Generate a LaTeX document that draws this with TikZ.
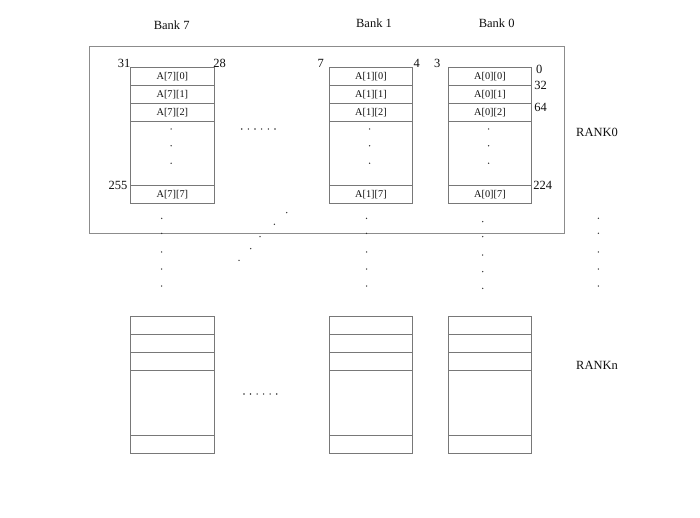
\documentclass[tikz,border=0pt]{standalone}
\usepackage{fontspec}
\setmainfont{Liberation Serif}
\usetikzlibrary{calc}
\definecolor{linegray}{RGB}{120,120,120}
\definecolor{textgray}{RGB}{15,15,15}
\definecolor{dotgray}{RGB}{50,50,50}
\tikzset{
  cell/.style={draw=linegray, line width=0.75pt, minimum width=83.3pt, minimum height=#1,
    inner sep=0pt, outer sep=0pt, anchor=north west, text=textgray,
    font=\fontsize{10.3}{11}\selectfont},
  lbl/.style={inner sep=0pt, outer sep=0pt, text=textgray, font=\fontsize{12.5}{13}\selectfont},
  frame/.style={draw=linegray!85, line width=0.9pt, inner sep=0pt, outer sep=0pt, anchor=north west},
}
\begin{document}
\begin{tikzpicture}[x=1pt,y=-1pt]
\useasboundingbox (0,0) rectangle (700,518);

% RANK0 frame
\node[frame, minimum width=475pt, minimum height=186.8pt] (rankzero) at (89.3,46.7) {};

% top banks
\foreach \nm/\xx/\k in {b7/130.7/7,b1/329.3/1,b0/448.3/0}{
  \node[cell=17.8pt] (\nm-r0) at (\xx,67.7) {A[\k][0]};
  \node[cell=17.8pt] (\nm-r1) at (\nm-r0.south west) {A[\k][1]};
  \node[cell=17.8pt] (\nm-r2) at (\nm-r1.south west) {A[\k][2]};
  \node[cell=64.6pt] (\nm-mid) at (\nm-r2.south west) {};
  \node[cell=18pt] (\nm-r7) at (\nm-mid.south west) {A[\k][7]};
  \foreach \dy in {7.9,24.7,42.1}{
    \fill[dotgray] ($(\nm-mid.north)+(-1.3,\dy)$) circle (0.75pt);
  }
}

% bottom banks
\foreach \nm/\xx in {n7/130.7,n1/329.3,n0/448.3}{
  \node[cell=18pt] (\nm-r0) at (\xx,316.7) {};
  \node[cell=18pt] (\nm-r1) at (\nm-r0.south west) {};
  \node[cell=17.7pt] (\nm-r2) at (\nm-r1.south west) {};
  \node[cell=65.4pt] (\nm-mid) at (\nm-r2.south west) {};
  \node[cell=18pt] (\nm-r7) at (\nm-mid.south west) {};
}

% headers
\node[lbl] (h7) at (171.7,25) {Bank 7};
\node[lbl] (h1) at (374,23) {Bank 1};
\node[lbl] (h0) at (496.7,23) {Bank 0};

% rank labels
\node[lbl] (rk0) at (597,132) {RANK0};
\node[lbl] (rkn) at (597,365) {RANKn};

% bit / address numbers
\node[lbl] (n31) at (124,63) {31};
\node[lbl] (n28) at (219.7,63) {28};
\node[lbl] (n7) at (320.7,63) {7};
\node[lbl] (n4) at (416.7,63) {4};
\node[lbl] (n3) at (437.3,63) {3};
\node[lbl] (a0) at (539.3,69) {0};
\node[lbl] (a32) at (540.7,85) {32};
\node[lbl] (a64) at (540.7,107) {64};
\node[lbl] (a224) at (542.7,185) {224};
\node[lbl] (a255) at (118,185) {255};

% horizontal ellipses
\foreach \i in {0,...,5}{
  \fill[dotgray] (241.7+6.66*\i,129) circle (0.8pt);
  \fill[dotgray] (244+6.54*\i,394) circle (0.8pt);
}

% vertical dot columns
\foreach \y in {218.3,233.3,252,269,286}{
  \fill[dotgray] (161.7,\y) circle (0.75pt);
  \fill[dotgray] (366.5,\y) circle (0.75pt);
  \fill[dotgray] (598.3,\y) circle (0.75pt);
}
\foreach \y in {221.7,236.7,255,271.7,288.3}{
  \fill[dotgray] (482.7,\y) circle (0.75pt);
}
% diagonal dots
\foreach \p in {(286.7,212.7),(274.3,224.3),(260,236.7),(250.7,248.7),(239,260.3)}{
  \fill[dotgray] \p circle (0.75pt);
}
\end{tikzpicture}
\end{document}
